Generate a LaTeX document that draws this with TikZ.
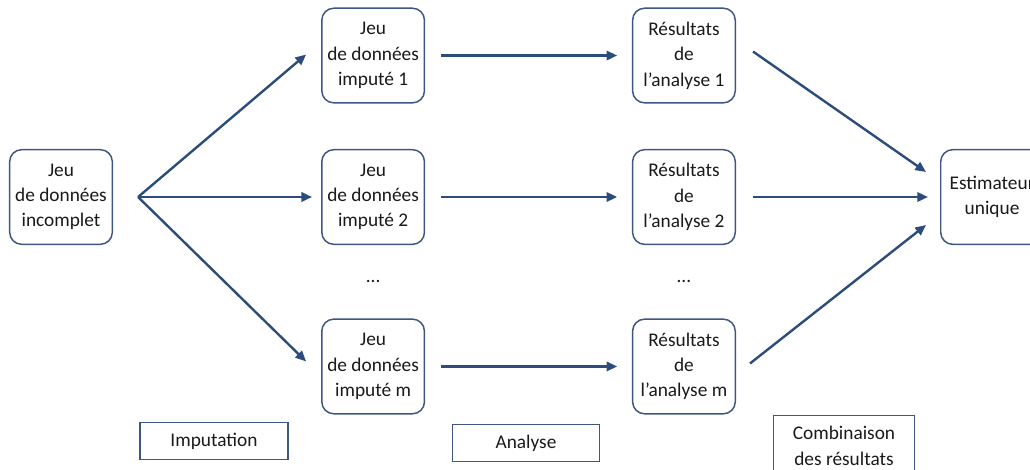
\documentclass[tikz,border=0pt]{standalone}
\usepackage{fontspec}
\setmainfont{Carlito}
\usetikzlibrary{arrows.meta, positioning, calc}
\definecolor{boxblue}{HTML}{3E5680}
\definecolor{arrowblue}{HTML}{2C4D7C}
\definecolor{txtgray}{HTML}{1A1A1A}

\begin{document}
\begin{tikzpicture}[
    x=0.75pt, y=-0.75pt,
    node distance=34pt and 155pt,
    >={Triangle[width=7pt,length=8pt]},
    dataset/.style={rectangle, draw=boxblue, line width=1.1pt, rounded corners=9pt, fill=white, align=center, minimum width=77pt, minimum height=71pt, inner sep=2pt, font=\fontsize{14.5}{19}\selectfont, text=txtgray},
    stage/.style={rectangle, draw=boxblue, line width=1pt, align=center, minimum height=28pt, inner sep=2pt, font=\fontsize{14.5}{19}\selectfont, text=txtgray},
    line/.style={draw=arrowblue, ->, line width=1.8pt},
    hline/.style={line, shorten <=12pt, shorten >=11pt}
]
    \useasboundingbox (0,0) rectangle (1030,470);

    \node (input) [dataset] at (61,197) {Jeu\\de données\\incomplet};

    \node (imp2) [dataset, right=156pt of input] {Jeu\\de données\\imputé 2};
    \node (imp1) [dataset, above=of imp2] {Jeu\\de données\\imputé 1};
    \node (impm) [dataset, below=55pt of imp2] {Jeu\\de données\\imputé m};

    \node (res1) [dataset, right=of imp1] {Résultats\\de\\l’analyse 1};
    \node (res2) [dataset, right=of imp2] {Résultats\\de\\l’analyse 2};
    \node (resm) [dataset, right=of impm] {Résultats\\de\\l’analyse m};

    \node (est) [dataset, right=153pt of res2] {Estimateur\\unique};

    \node (dotsimp) [text=txtgray, font=\fontsize{14.5}{19}\selectfont] at ($(imp2.south)!0.5!(impm.north)$) {...};
    \node (dotsres) [text=txtgray, font=\fontsize{14.5}{19}\selectfont] at ($(res2.south)!0.5!(resm.north)$) {...};

    % stage labels
    \node (lblimp) [stage, minimum width=111pt] at (214,441) {Imputation};
    \node (lblana) [stage, minimum width=110pt] at (526,443) {Analyse};
    \node (lblcomb) [stage, minimum width=106pt, minimum height=46pt] at (844,446) {Combinaison\\des résultats};

    % imputation
    \coordinate (fan) at ($(input.east)+(25,0)$);
    \draw[line] (fan) -- ($(imp1.west)+(-15,-1)$);
    \draw[line] (fan) -- ($(imp2.west)+(-9,0)$);
    \draw[line] (fan) -- ($(impm.west)+(-15,-5)$);

    % analyse
    \draw[hline] (imp1) -- (res1);
    \draw[hline] (imp2) -- (res2);
    \draw[hline] (impm) -- (resm);

    % combinaison
    \draw[line] ($(res1.east)+(17,-4)$) -- ($(est.west)+(-14,-25)$);
    \draw[line] ($(res2.east)+(17,0)$) -- ($(est.west)+(-12,0)$);
    \draw[line] ($(resm.east)+(14,-3)$) -- ($(est.west)+(-14,28)$);
\end{tikzpicture}
\end{document}
